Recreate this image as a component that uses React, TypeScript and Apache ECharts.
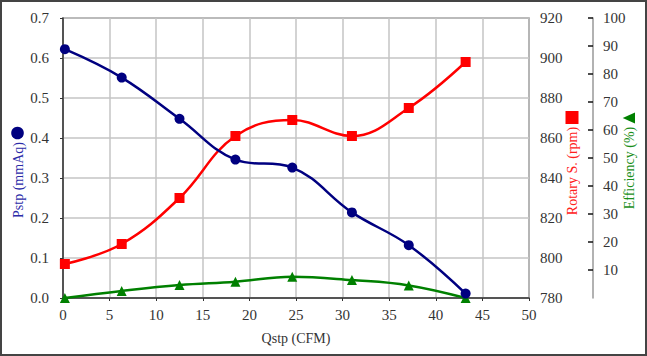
import React, { useEffect, useRef } from "react";
import * as echarts from "echarts";

const qstp = [0.2, 6.3, 12.5, 18.5, 24.6, 31.0, 37.1, 43.2];
const pstp = [0.622, 0.551, 0.448, 0.346, 0.326, 0.214, 0.132, 0.011];
const rpm = [797, 807, 830, 861, 869, 861, 875, 898];
const efficiency = [0, 2.5, 4.6, 5.8, 7.6, 6.4, 4.5, 0];

const FONT = "'Liberation Serif', 'DejaVu Serif', serif";

export default function App() {
  const ref = useRef<HTMLDivElement>(null);
  useEffect(() => {
    document.body.style.margin = "0";
    const chart = echarts.init(ref.current!, null, { renderer: "svg" });
    const pair = (ys: number[]) => qstp.map((x, i) => [x, ys[i]]);
    const labelStyle = { color: "#333", fontFamily: FONT, fontSize: 15 };
    chart.setOption({
      animation: false,
      textStyle: { fontFamily: FONT },
      grid: {
        left: 63,
        right: 118,
        top: 18,
        bottom: 58,
        show: true,
        borderColor: "#404040",
        borderWidth: 1.2,
      },
      xAxis: {
        type: "value",
        min: 0,
        max: 50,
        interval: 5,
        name: "Qstp (CFM)",
        nameLocation: "middle",
        nameGap: 33,
        nameTextStyle: { color: "#333", fontFamily: FONT, fontSize: 14 },
        axisLine: { lineStyle: { color: "#333", width: 1.5 } },
        axisTick: { show: true, length: 3, lineStyle: { color: "#333" } },
        axisLabel: { ...labelStyle, margin: 9 },
        splitLine: { show: true, lineStyle: { color: "#c4c4c4", width: 1.5 } },
      },
      yAxis: [
        {
          type: "value",
          min: 0,
          max: 0.7,
          interval: 0.1,
          position: "left",
          axisLine: { show: true, lineStyle: { color: "#333", width: 1.5 } },
          axisTick: { show: true, length: 3, lineStyle: { color: "#333" } },
          axisLabel: { ...labelStyle, margin: 14, formatter: (v: number) => v.toFixed(1) },
          splitLine: { show: true, lineStyle: { color: "#c4c4c4", width: 1.5 } },
        },
        {
          type: "value",
          min: 780,
          max: 920,
          interval: 20,
          position: "right",
          axisLine: { show: false },
          axisTick: { show: false },
          axisLabel: { ...labelStyle, margin: 11 },
          splitLine: { show: false },
        },
        {
          type: "value",
          min: 0,
          max: 100,
          interval: 10,
          position: "right",
          offset: 64,
          axisLine: { show: true, lineStyle: { color: "#999", width: 1.5 } },
          axisTick: { show: true, inside: true, length: 5, lineStyle: { color: "#111", width: 1.5 } },
          axisLabel: { ...labelStyle, margin: 10, showMinLabel: false },
          splitLine: { show: false },
        },
      ],
      series: [
        {
          type: "line",
          name: "Pstp",
          yAxisIndex: 0,
          data: pair(pstp),
          smooth: 0.4,
          symbol: "circle",
          symbolSize: 10,
          lineStyle: { color: "#000080", width: 2.5 },
          itemStyle: { color: "#000080" },
          z: 3,
        },
        {
          type: "line",
          name: "Rotary S.",
          yAxisIndex: 1,
          data: pair(rpm),
          smooth: 0.4,
          symbol: "rect",
          symbolSize: 10,
          lineStyle: { color: "#ff0000", width: 2.5 },
          itemStyle: { color: "#ff0000" },
          z: 2,
        },
        {
          type: "line",
          name: "Efficiency",
          yAxisIndex: 2,
          data: pair(efficiency),
          smooth: 0.4,
          symbol: "triangle",
          symbolSize: 10,
          lineStyle: { color: "#008000", width: 2.5 },
          itemStyle: { color: "#008000" },
          z: 2,
        },
      ],
      graphic: [
        {
          type: "rect",
          shape: { x: 1, y: 1, width: 645, height: 354 },
          style: { fill: "none", stroke: "#444", lineWidth: 2 },
          silent: true,
        },
        {
          type: "text",
          x: 18,
          y: 180,
          rotation: Math.PI / 2,
          style: {
            text: "Pstp (mmAq)",
            font: `14px ${FONT}`,
            fill: "#2b2ba8",
            textAlign: "center",
            textVerticalAlign: "middle",
            align: "center",
            verticalAlign: "middle",
          },
        },
        {
          type: "circle",
          shape: { cx: 17.5, cy: 133, r: 6.3 },
          style: { fill: "#000080" },
        },
        {
          type: "text",
          x: 572.5,
          y: 171,
          rotation: Math.PI / 2,
          style: {
            text: "Rotary S. (rpm)",
            font: `14px ${FONT}`,
            fill: "#ff2020",
            textAlign: "center",
            textVerticalAlign: "middle",
            align: "center",
            verticalAlign: "middle",
          },
        },
        {
          type: "rect",
          shape: { x: 565.5, y: 111, width: 13, height: 13 },
          style: { fill: "#ff0000" },
        },
        {
          type: "text",
          x: 629,
          y: 168,
          rotation: Math.PI / 2,
          style: {
            text: "Efficiency (%)",
            font: `14px ${FONT}`,
            fill: "#1a8f1a",
            textAlign: "center",
            textVerticalAlign: "middle",
            align: "center",
            verticalAlign: "middle",
          },
        },
        {
          type: "polygon",
          shape: { points: [[622.7, 118], [635, 112.5], [635, 123.5]] },
          style: { fill: "#008000" },
        },
      ],
    });
    return () => chart.dispose();
  }, []);
  return <div ref={ref} style={{ width: 647, height: 356 }} />;
}
